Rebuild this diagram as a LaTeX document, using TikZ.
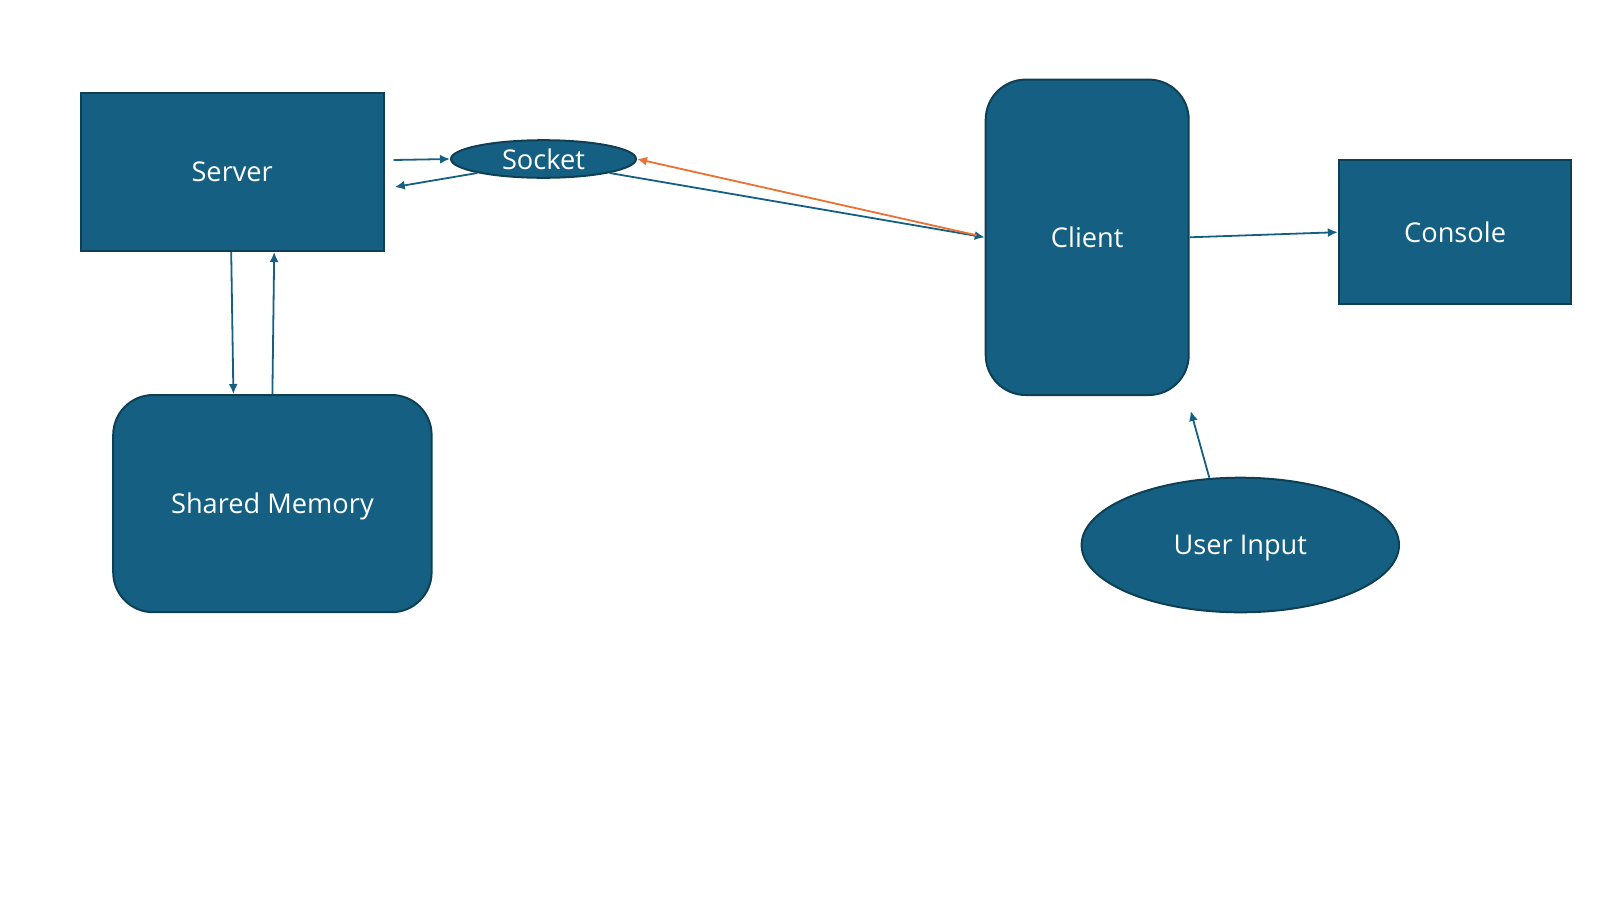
\documentclass[tikz,border=0pt]{standalone}
\usepackage{fontspec}
\setmainfont{Open Sans}
\usetikzlibrary{shapes.geometric,arrows.meta,calc}
\definecolor{boxblue}{HTML}{156082}
\definecolor{boxedge}{HTML}{0E3F55}
\definecolor{arrblue}{HTML}{156082}
\definecolor{arrorange}{HTML}{E97132}
\tikzset{
  blk/.style={draw=boxedge, line width=1pt, fill=boxblue, text=white, inner sep=0pt,
    text depth=0pt, font=\fontsize{13.6}{16}\selectfont},
  rbox/.style={blk, rectangle},
  rrbox/.style={blk, rectangle, rounded corners=20pt},
  ell/.style={blk, ellipse},
  arr/.style={draw=arrblue, line width=0.9pt, -{Latex[length=5pt,width=4.5pt]}},
  oarr/.style={arr, draw=arrorange}
}
\begin{document}
\begin{tikzpicture}[x=0.5pt,y=-0.5pt]
\useasboundingbox (0,0) rectangle (1600,900);
\node[rbox, minimum width=151.5pt, minimum height=79pt] (server) at (232.2,172) {Server};
\node[ell, minimum width=92.5pt, minimum height=18.8pt] (socket) at (543.5,159) {Socket};
\node[rrbox, minimum width=101.5pt, minimum height=157.7pt] (client) at (1087.2,237.3) {Client};
\node[rbox, minimum width=116.3pt, minimum height=72pt] (console) at (1455.1,232.2) {Console};
\node[rrbox, minimum width=159.2pt, minimum height=108.6pt] (shared) at (272.4,503.6) {Shared Memory};
\node[ell, minimum width=158.7pt, minimum height=67.3pt] (user) at (1240.3,545) {User Input};

\draw[arr] ($(server.east)+(9,-12)$) -- (socket.west);
\draw[arr] (socket.south west) -- ($(server.east)+(10,15)$);
\draw[arr] (socket.south east) -- (client.west);
\draw[oarr] ($(client.west)+(-8,-2)$) -- (socket.east);
\draw[arr] (client.east) -- (console.west);
\draw[arr] ($(server.south)+(-1,0)$) -- ($(shared.north)+(-39,0)$);
\draw[arr] (shared.north) -- ($(server.south)+(42,0)$);
\draw[arr] ($(user.north)+(-31,1)$) -- ($(client.south east)+(1,15)$);
\end{tikzpicture}
\end{document}
